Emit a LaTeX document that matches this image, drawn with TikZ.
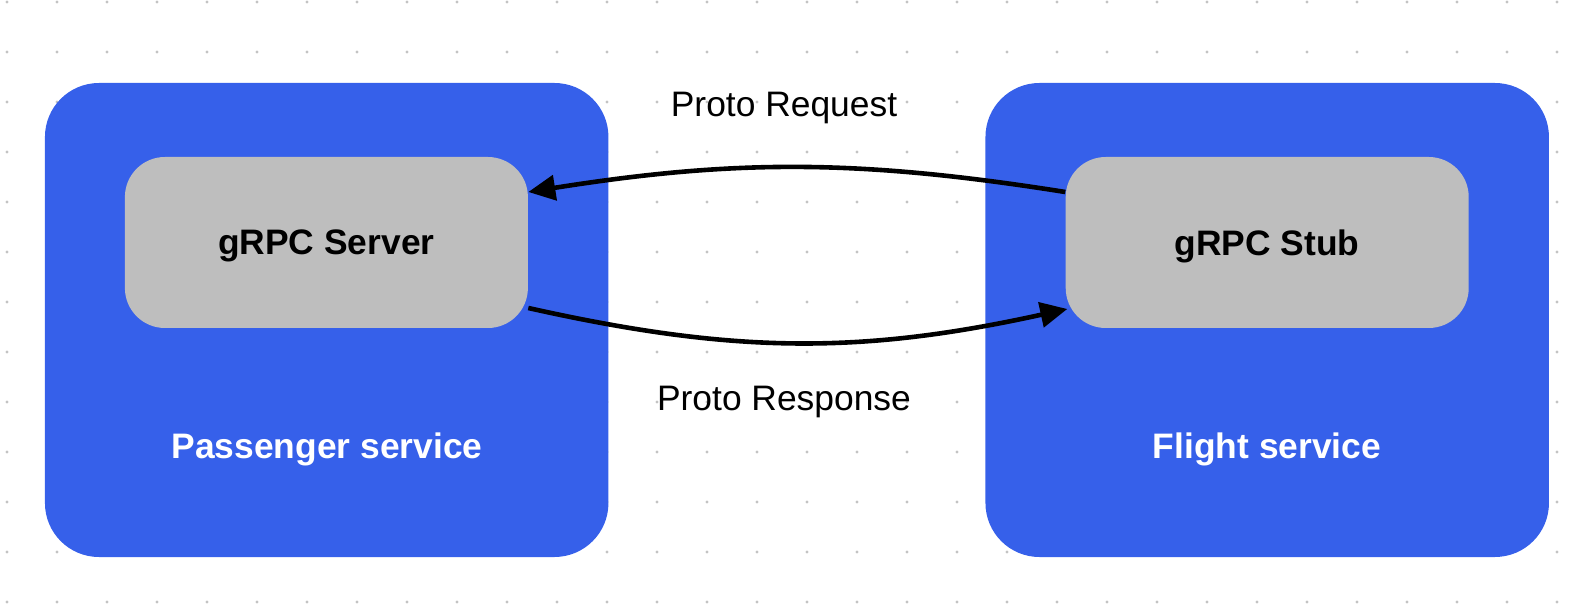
\documentclass[tikz,border=0pt]{standalone}
\usepackage{fontspec}
\setmainfont{Liberation Sans}
\usepackage{tikz}
\usetikzlibrary{arrows.meta}
\definecolor{serviceblue}{RGB}{54, 96, 234}
\definecolor{grpcgray}{RGB}{190, 190, 190}
\definecolor{dotgray}{RGB}{195, 195, 195}

\begin{document}
\begin{tikzpicture}[x=0.5pt, y=-0.5pt, font=\fontsize{17.7}{21}\selectfont,
    every node/.style={text depth=0pt},
    service/.style={fill=serviceblue, rounded corners=27pt, minimum width=281.75pt, minimum height=237pt},
    grpc/.style={fill=grpcgray, rounded corners=20pt, minimum width=201.5pt, minimum height=85.5pt, font=\fontsize{17.7}{21}\selectfont\bfseries},
    servicelabel/.style={text=white, font=\fontsize{17.7}{21}\selectfont\bfseries},
    flow/.style={line width=2.3pt, -{Triangle[length=13.5pt, width=12.5pt]}}]
        \useasboundingbox (0,0) rectangle (1582,608);

        % dot grid
        \foreach \x in {7,57,...,1557}
            \foreach \y in {2,52,...,602}
                \fill[dotgray] (\x,\y) circle (0.85pt);

        % services
        \node[service] (passenger) at (326.7,320) {};
        \node[service] (flight) at (1267.2,320) {};
        \node[servicelabel] (passengerlabel) at (327,446) {Passenger service};
        \node[servicelabel] (flightlabel) at (1267,446) {Flight service};

        % gRPC ends
        \node[grpc] (server) at (326.4,242.5) {gRPC Server};
        \node[grpc] (stub) at (1267.2,242.5) {gRPC Stub};

        % calls
        \draw[flow] ([yshift=25.25pt]stub.west) to[bend right=9] ([yshift=25.25pt]server.east);
        \draw[flow] ([yshift=-32.75pt]server.east) to[bend right=12.5] ([xshift=1pt, yshift=-33.25pt]stub.west);
        \node (request) at (784,104) {Proto Request};
        \node (response) at (784,398.5) {Proto Response};
    \end{tikzpicture}
\end{document}
